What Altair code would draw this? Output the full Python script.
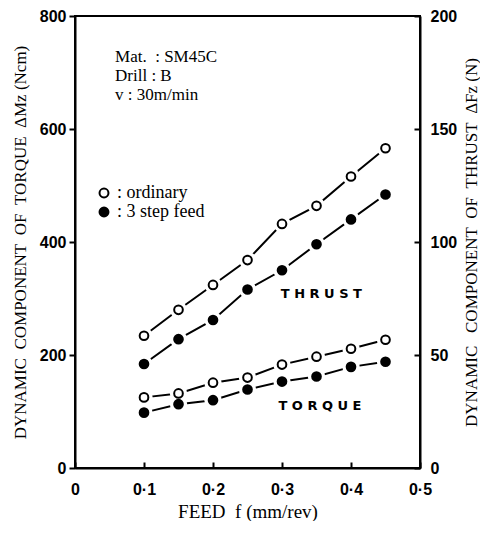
import altair as alt
import pandas as pd

# ---- data ----
feed = [0.10, 0.15, 0.20, 0.25, 0.30, 0.35, 0.40, 0.45]
thrust_ordinary = [58.5, 70, 81, 92, 108, 116, 129, 141.5]   # N
thrust_step = [46, 57, 65.5, 79, 87.5, 99, 110, 121]          # N
torque_ordinary = [125, 132, 151, 160, 183, 197, 211, 227]    # Ncm
torque_step = [98, 113, 120, 139, 153, 162, 179, 188]         # Ncm

conditions = ["ordinary", "3 step feed"]
x_ticks = [0, 0.1, 0.2, 0.3, 0.4, 0.5]
torque_ticks = [0, 200, 400, 600, 800]
thrust_ticks = [0, 50, 100, 150, 200]

rows = []
for f, a, b in zip(feed, torque_ordinary, torque_step):
    rows.append({"feed": f, "value": a, "cond": "ordinary", "qty": "torque"})
    rows.append({"feed": f, "value": b, "cond": "3 step feed", "qty": "torque"})
for f, a, b in zip(feed, thrust_ordinary, thrust_step):
    rows.append({"feed": f, "value": a, "cond": "ordinary", "qty": "thrust"})
    rows.append({"feed": f, "value": b, "cond": "3 step feed", "qty": "thrust"})
df = pd.DataFrame(rows)
torque_df = df[df.qty == "torque"]
thrust_df = df[df.qty == "thrust"]

SERIF = "Liberation Serif"
SANS = "Liberation Sans"
NB = "\u00a0"

x_enc = alt.X(
    "feed:Q",
    scale=alt.Scale(domain=[0, 0.5], nice=False),
    axis=alt.Axis(
        values=x_ticks,
        labelExpr="datum.value == 0 ? '0' : replace(format(datum.value, '.1f'), '.', '·')",
        title=f"FEED{NB}{NB}f{NB}(mm/rev)",
        titleFont=SERIF, titleFontSize=19, titleFontWeight="normal",
        labelFont=SANS, labelFontSize=16, labelFontWeight="bold",
        tickSize=alt.ExprRef(expr="-6"), labelPadding=19, titlePadding=5,
        labelFlush=False,
    ),
)

fill_enc = alt.Fill(
    "cond:N",
    scale=alt.Scale(domain=conditions, range=["white", "black"]),
    legend=alt.Legend(
        title=None, orient="none", legendX=20, legendY=168,
        labelExpr=f"':{NB}' + datum.label",
        labelFont=SERIF, labelFontSize=18, labelColor="black",
        symbolType="circle", symbolSize=80, symbolStrokeColor="black",
        symbolStrokeWidth=2, rowPadding=1, symbolOffset=0,
    ),
)


def series_layers(data, y_enc):
    base = alt.Chart(data).encode(x=x_enc, y=y_enc)
    line = base.mark_line(color="black", strokeWidth=2).encode(detail="cond:N")
    halo = base.mark_point(filled=True, color="white", size=300, opacity=1, shape="circle")
    pts = base.mark_point(filled=True, size=75, stroke="black", strokeWidth=2,
                          opacity=1, shape="circle").encode(fill=fill_enc)
    return [line, halo, pts]


torque_y = alt.Y(
    "value:Q",
    scale=alt.Scale(domain=[0, 800], nice=False),
    axis=alt.Axis(
        values=torque_ticks, orient="left",
        title=f"DYNAMIC{NB}{NB}COMPONENT{NB}{NB}OF{NB}{NB}TORQUE{NB}{NB}ΔMz{NB}(Ncm)",
        titleFont=SERIF, titleFontSize=17, titleFontWeight="normal",
        labelFont=SANS, labelFontSize=16, labelFontWeight="bold",
        tickSize=6, labelPadding=3, titlePadding=10,
    ),
)
thrust_y = alt.Y(
    "value:Q",
    scale=alt.Scale(domain=[0, 200], nice=False),
    axis=alt.Axis(
        values=thrust_ticks, orient="right",
        title=f"DYNAMIC{NB}{NB}{NB}COMPONENT{NB}{NB}OF{NB}{NB}THRUST{NB}{NB}ΔFz{NB}(N)",
        titleFont=SERIF, titleFontSize=17, titleFontWeight="normal",
        titleAngle=270,
        labelFont=SANS, labelFontSize=16, labelFontWeight="bold",
        tickSize=alt.ExprRef(expr="-6"), labelPadding=16, titlePadding=24,
    ),
)

# annotations in data coordinates (torque scale)
info_lines = [f"Mat.{NB}{NB}:{NB}SM45C", f"Drill{NB}:{NB}B", f"v{NB}:{NB}30m/min"]
info_df = pd.DataFrame({"feed": [0.058] * 3, "value": [727, 694, 661], "txt": info_lines})
info = alt.Chart(info_df).mark_text(
    align="left", baseline="middle", font=SERIF, fontSize=17, color="black"
).encode(x="feed:Q", y=alt.Y("value:Q"), text="txt:N")

lab_df = pd.DataFrame({"feed": [0.357, 0.355], "value": [308, 109],
                       "txt": ["T H R U S T", "T O R Q U E"]})
labels = alt.Chart(lab_df).mark_text(
    align="center", baseline="middle", font="DejaVu Sans", fontSize=13,
    fontWeight="bold", color="black"
).encode(x="feed:Q", y=alt.Y("value:Q"), text="txt:N")

torque_layer = alt.layer(*series_layers(torque_df, torque_y), info, labels)
thrust_layer = alt.layer(*series_layers(thrust_df, thrust_y))

chart = alt.layer(torque_layer, thrust_layer).resolve_scale(
    y="independent"
).properties(
    width=345, height=452, padding={"left": 3, "top": 0, "right": 0, "bottom": 0}
).configure_view(
    stroke="black", strokeWidth=2
).configure_axis(
    grid=False, domainColor="black", domainWidth=2, tickColor="black",
    tickWidth=2, labelColor="black", titleColor="black"
)

chart.save("out.html", embed_options={"renderer": "svg", "actions": False})
